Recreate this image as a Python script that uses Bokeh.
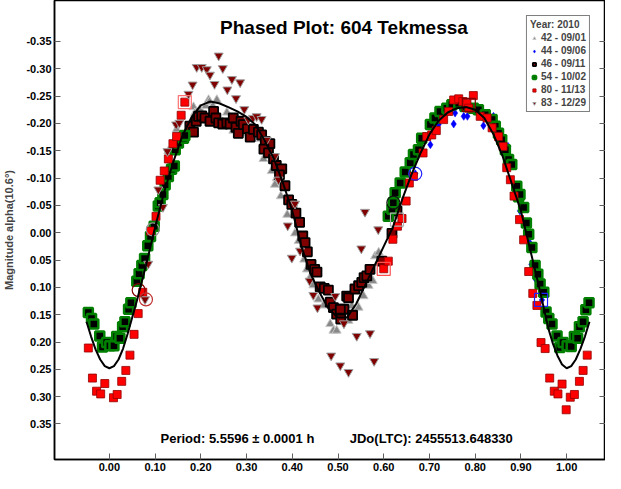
from bokeh.plotting import figure
from bokeh.models import (Range1d, FixedTicker, LinearAxis, Label, Legend, LegendItem,
                          CustomJSTickFormatter)
from bokeh.embed import file_html
from bokeh.resources import INLINE

# ---------------- data ----------------
x_ticks = [0.0, 0.1, 0.2, 0.3, 0.4, 0.5, 0.6, 0.7, 0.8, 0.9, 1.0]
y_ticks = [-0.35, -0.30, -0.25, -0.20, -0.15, -0.10, -0.05, 0.0, 0.05, 0.10, 0.15, 0.20, 0.25, 0.30, 0.35]

# Fourier fit curve
fit_phase = [-0.05, -0.04, -0.03, -0.02, -0.01, 0.00, 0.01, 0.02, 0.03, 0.04, 0.06, 0.08, 0.10, 0.12,
             0.14, 0.16, 0.18, 0.20, 0.22, 0.24, 0.26, 0.28, 0.30, 0.32, 0.34, 0.36, 0.38, 0.40, 0.42,
             0.44, 0.46, 0.48, 0.50, 0.52, 0.54, 0.56, 0.58, 0.60, 0.62, 0.64, 0.66, 0.68, 0.70, 0.72,
             0.74, 0.76, 0.78, 0.80, 0.82, 0.84, 0.86, 0.88, 0.90, 0.92, 0.94, 0.96, 0.97, 0.98, 0.99,
             1.00, 1.01, 1.02, 1.03, 1.04, 1.05]
fit_mag = [0.163, 0.190, 0.214, 0.232, 0.244, 0.248, 0.244, 0.232, 0.212, 0.185, 0.125, 0.060, -0.010,
           -0.075, -0.130, -0.178, -0.212, -0.233, -0.240, -0.237, -0.230, -0.222, -0.212, -0.197,
           -0.168, -0.135, -0.090, -0.040, 0.025, 0.075, 0.110, 0.140, 0.155, 0.155, 0.130, 0.095,
           0.060, 0.025, -0.010, -0.060, -0.105, -0.145, -0.180, -0.205, -0.220, -0.228, -0.230,
           -0.225, -0.210, -0.180, -0.140, -0.090, -0.040, 0.030, 0.100, 0.175, 0.203, 0.225, 0.241,
           0.248, 0.244, 0.232, 0.213, 0.190, 0.163]

s42_phase = [0.129, 0.147, 0.184, 0.187, 0.198, 0.211, 0.217, 0.219, 0.226, 0.235, 0.257, 0.271, 0.279,
             0.282, 0.286, 0.304, 0.330, 0.337, 0.355, 0.362, 0.366, 0.375, 0.389, 0.406, 0.414, 0.426,
             0.432, 0.439, 0.446, 0.457, 0.468, 0.483, 0.490, 0.497, 0.523, 0.530, 0.545, 0.556, 0.567,
             0.576, 0.581, 0.589, 0.625, 0.632]
s42_mag = [-0.149, -0.189, -0.230, -0.219, -0.226, -0.232, -0.243, -0.240, -0.232, -0.243, -0.220, -0.187,
           -0.196, -0.179, -0.182, -0.192, -0.172, -0.135, -0.113, -0.088, -0.100, -0.067, -0.033, 0.001,
           0.015, 0.049, 0.067, 0.082, 0.096, 0.122, 0.133, 0.167, 0.179, 0.179, 0.161, 0.134, 0.137,
           0.116, 0.097, 0.088, 0.043, 0.036, -0.030, -0.015]

s44_phase = [0.669, 0.702, 0.720, 0.753, 0.756, 0.767, 0.775, 0.783, 0.793, 0.804, 0.818, 0.832, 0.840,
             0.862, 0.872, 0.884, 0.898, 0.919, 0.923, 0.933, 0.946]
s44_mag = [-0.108, -0.161, -0.198, -0.199, -0.219, -0.231, -0.213, -0.213, -0.225, -0.228, -0.196, -0.206,
           -0.213, -0.149, -0.158, -0.125, -0.040, 0.018, 0.058, 0.086, 0.123]

s46_phase = [0.176, 0.184, 0.190, 0.195, 0.202, 0.209, 0.220, 0.228, 0.233, 0.239, 0.248, 0.257, 0.264,
             0.271, 0.277, 0.282, 0.288, 0.293, 0.302, 0.308, 0.315, 0.326, 0.333, 0.341, 0.351, 0.338,
             0.348, 0.359, 0.365, 0.377, 0.372, 0.384, 0.392, 0.399, 0.408, 0.416, 0.423, 0.428, 0.433,
             0.441, 0.449, 0.454, 0.461, 0.470, 0.479, 0.483, 0.490, 0.497, 0.506, 0.513, 0.505, 0.519,
             0.523, 0.532, 0.537, 0.545, 0.552, 0.557, 0.563, 0.570, 0.596, 0.618, 0.629]
s46_mag = [-0.195, -0.184, -0.204, -0.213, -0.214, -0.210, -0.204, -0.222, -0.210, -0.201, -0.199, -0.201,
           -0.199, -0.210, -0.193, -0.182, -0.204, -0.198, -0.190, -0.175, -0.189, -0.184, -0.179, -0.167,
           -0.163, -0.153, -0.146, -0.135, -0.123, -0.117, -0.106, -0.086, -0.060, -0.052, -0.036, -0.019,
           0.006, 0.018, 0.035, 0.058, 0.067, 0.072, 0.099, 0.102, 0.105, 0.127, 0.137, 0.149, 0.158,
           0.140, 0.140, 0.116, 0.119, 0.151, 0.103, 0.097, 0.091, 0.082, 0.079, 0.067, 0.052, 0.001, -0.040]

s54_phase = [-0.046, -0.039, -0.034, -0.021, -0.015, -0.006, 0.001, 0.010, 0.016, 0.023, 0.029, 0.034,
             0.042, 0.047, 0.060, 0.065, 0.071, 0.077, 0.084, 0.090, 0.098, 0.107, 0.111, 0.117, 0.122,
             0.129, 0.136, 0.142, 0.144, 0.151, 0.162, 0.165,
             0.610, 0.618, 0.621, 0.625, 0.636, 0.647, 0.658, 0.665, 0.676, 0.683, 0.702, 0.712, 0.723,
             0.738, 0.749, 0.764, 0.778, 0.796, 0.807, 0.822, 0.837, 0.844, 0.851, 0.858, 0.866, 0.873,
             0.880, 0.891, 0.895, 0.898, 0.906, 0.912, 0.917, 0.924, 0.931, 0.937, 0.942, 0.950, 0.955,
             0.961, 0.968, 0.979, 0.985, 0.992, 1.001, 1.010, 1.017, 1.024, 1.028, 1.036, 1.042, 1.049]
s54_mag = [0.146, 0.157, 0.167, 0.189, 0.209, 0.201, 0.207, 0.207, 0.190, 0.193, 0.172, 0.163, 0.140,
           0.128, 0.089, 0.075, 0.060, 0.047, 0.024, 0.007, -0.012, -0.049, -0.055, -0.070, -0.088,
           -0.103, -0.116, -0.122, -0.152, -0.164, -0.173, -0.178,
           -0.030, -0.043, -0.055, -0.073, -0.091, -0.111, -0.128, -0.143, -0.152, -0.173, -0.198,
           -0.210, -0.222, -0.228, -0.234, -0.237, -0.231, -0.228, -0.225, -0.216, -0.207, -0.195,
           -0.182, -0.170, -0.152, -0.134, -0.125, -0.085, -0.066, -0.070, -0.046, -0.018, 0.003,
           0.027, 0.060, 0.076, 0.094, 0.109, 0.145, 0.157, 0.167, 0.189, 0.210, 0.201, 0.207, 0.208,
           0.190, 0.193, 0.172, 0.163, 0.141, 0.128]

s80_phase = [-0.046, -0.037, -0.028, -0.019, -0.010, 0.009, 0.017, 0.027, 0.036, 0.045, 0.054, 0.063,
             0.073, 0.090, 0.102, 0.111, 0.120, 0.129, 0.139, 0.147, 0.157, 0.165,
             0.600, 0.610, 0.620, 0.630, 0.640, 0.649, 0.656, 0.665, 0.686, 0.694, 0.705, 0.715, 0.731,
             0.742, 0.753, 0.764, 0.773, 0.782, 0.786, 0.796, 0.811, 0.826, 0.837, 0.851, 0.861, 0.869,
             0.877, 0.885, 0.897, 0.906, 0.917, 0.926, 0.935, 0.944, 0.953, 0.963, 0.973, 0.981, 0.990,
             0.999, 1.008, 1.017, 1.028, 1.036, 1.045]
s80_mag = [0.211, 0.266, 0.290, 0.295, 0.276, 0.302, 0.296, 0.272, 0.252, 0.224, 0.186, 0.148, 0.109,
           -0.003, -0.030, -0.096, -0.113, -0.135, -0.163, -0.176, -0.215, -0.239,
           0.066, 0.052, 0.012, -0.012, -0.026, -0.058, -0.091, -0.103, -0.146, -0.176, -0.179, -0.187,
           -0.207, -0.222, -0.243, -0.245, -0.240, -0.237, -0.228, -0.251, -0.213, -0.210, -0.192,
           -0.176, -0.158, -0.119, -0.097, -0.067, -0.024, 0.013, 0.071, 0.111, 0.133, 0.201, 0.212,
           0.266, 0.290, 0.295, 0.277, 0.324, 0.301, 0.296, 0.272, 0.252, 0.224]

s83_phase = [0.078, 0.085, 0.107, 0.117, 0.127, 0.146, 0.153, 0.173, 0.182, 0.191, 0.202, 0.213, 0.220,
             0.230, 0.239, 0.248, 0.258, 0.268, 0.277, 0.286, 0.295, 0.304, 0.314, 0.322, 0.333, 0.344,
             0.362, 0.370, 0.390, 0.399, 0.406, 0.417, 0.438, 0.446, 0.455, 0.485, 0.494, 0.505, 0.513,
             0.523, 0.541, 0.551, 0.559, 0.570, 0.579, 0.588]
s83_mag = [0.122, 0.057, -0.079, -0.047, -0.149, -0.198, -0.201, -0.254, -0.271, -0.303, -0.303, -0.299,
           -0.289, -0.272, -0.324, -0.301, -0.262, -0.281, -0.246, -0.275, -0.226, -0.207, -0.210,
           -0.213, -0.208, -0.170, -0.140, -0.097, -0.013, 0.046, -0.053, 0.033, 0.088, 0.114, 0.137,
           0.225, 0.116, 0.243, 0.166, 0.255, 0.189, 0.029, -0.038, 0.184, 0.235, -0.006]

# highlighted (first-point) markers
ring_phase = [0.095, 0.064, 0.080, 0.621, 0.669]
ring_mag = [-0.006, 0.105, 0.122, -0.055, -0.108]
ring_color = ["#909090", "#800000", "#c03030", "#101010", "#2020ff"]
box_phase = [0.165, 0.600, 0.629, 0.944, 0.786]
box_mag = [-0.239, 0.066, -0.024, 0.123, -0.234]
box_color = ["#ff7070", "#ff5050", "#b0b0b0", "#2020ff", "#800000"]

legend_labels = ["42 - 09/01", "44 - 09/06", "46 - 09/11", "54 - 10/02", "80 - 11/13", "83 - 12/29"]

# ---------------- figure ----------------
FONT = "Liberation Sans"
p = figure(width=605, height=473, output_backend="svg", toolbar_location=None,
           x_range=Range1d(-0.12, 1.085), y_range=Range1d(0.415, -0.425),
           min_border_left=49, min_border_right=0, min_border_top=0, min_border_bottom=0)
p.background_fill_color = "white"
p.border_fill_color = "white"
p.grid.visible = False
p.outline_line_color = "black"
p.outline_line_width = 1.5

fmt = CustomJSTickFormatter(code="return tick.toFixed(2);")

for ax in (p.xaxis[0], p.yaxis[0]):
    ax.formatter = fmt
    ax.major_tick_in = 6
    ax.major_tick_out = 0
    ax.minor_tick_in = 0
    ax.minor_tick_out = 0
    ax.axis_line_color = "black"
    ax.axis_line_width = 1.5
    ax.major_tick_line_color = "#606060"
    ax.major_label_text_font = FONT
    ax.major_label_text_font_style = "bold"
    ax.major_label_text_font_size = "11px"
    ax.major_label_text_color = "black"
p.xaxis[0].ticker = FixedTicker(ticks=x_ticks)
p.yaxis[0].ticker = FixedTicker(ticks=y_ticks)
p.xaxis[0].major_label_standoff = 3
p.yaxis[0].major_label_standoff = 3
p.yaxis[0].axis_label = "Magnitude alpha(10.6°)"
p.yaxis[0].axis_label_text_font = FONT
p.yaxis[0].axis_label_text_font_style = "bold"
p.yaxis[0].axis_label_text_font_size = "11px"
p.yaxis[0].axis_label_standoff = 8

rax = LinearAxis(ticker=FixedTicker(ticks=y_ticks), major_tick_in=6, major_tick_out=0,
                 minor_tick_in=0, minor_tick_out=0,
                 formatter=CustomJSTickFormatter(code="return '';"),
                 major_label_standoff=0, axis_line_color="black", major_tick_line_color="#606060")
p.add_layout(rax, "right")

# ---------------- data series ----------------
r42 = p.scatter(s42_phase, s42_mag, marker="triangle", size=9, fill_color="#888888",
                line_color="#c8c8c8", line_width=1)
r44 = p.scatter(s44_phase, s44_mag, marker="diamond", size=8, fill_color="#0000ff",
                line_color="#0000ff", line_width=0.5)
r46 = p.scatter(s46_phase, s46_mag, marker="square", size=9, fill_color="#800000",
                line_color="black", line_width=1.8)
r54 = p.scatter(s54_phase, s54_mag, marker="square", size=9, fill_color="black",
                line_color="#008000", line_width=2.5)
r80 = p.scatter(s80_phase, s80_mag, marker="square", size=8, fill_color="#ff0000",
                line_color="#900000", line_width=0.8)
r83 = p.scatter(s83_phase, s83_mag, marker="inverted_triangle", size=9, fill_color="#800000",
                line_color="#a0a0a0", line_width=1)

p.scatter(ring_phase, ring_mag, marker="circle", size=13, fill_color=None,
          line_color=ring_color, line_width=1.2)
p.scatter(box_phase, box_mag, marker="square", size=13, fill_color=None,
          line_color=box_color, line_width=1.2)

p.line(fit_phase, fit_mag, line_color="black", line_width=2)

# ---------------- texts ----------------
p.add_layout(Label(x=0.513, y=-0.376, text="Phased Plot: 604 Tekmessa", text_align="center",
                   text_baseline="middle", text_font=FONT, text_font_style="bold",
                   text_font_size="19px", text_color="black"))
p.add_layout(Label(x=0.280, y=0.376, text="Period: 5.5596 ± 0.0001 h", text_align="center",
                   text_baseline="middle", text_font=FONT, text_font_style="bold",
                   text_font_size="13px", text_color="black"))
p.add_layout(Label(x=0.704, y=0.376, text="JDo(LTC): 2455513.648330", text_align="center",
                   text_baseline="middle", text_font=FONT, text_font_style="bold",
                   text_font_size="13px", text_color="black"))

items = [LegendItem(label=lab, renderers=[r]) for lab, r in
         zip(legend_labels, [r42, r44, r46, r54, r80, r83])]
leg = Legend(items=items, location="top_right", title="Year: 2010")
leg.title_text_font = FONT
leg.title_text_font_style = "bold"
leg.title_text_font_size = "10px"
leg.title_standoff = 2
leg.label_text_font = FONT
leg.label_text_font_style = "bold"
leg.label_text_font_size = "10px"
leg.label_height = 10
leg.glyph_height = 10
leg.glyph_width = 8
leg.label_standoff = 3
leg.spacing = 2
leg.padding = 3
leg.margin = 15
leg.border_line_color = "black"
leg.border_line_width = 1
leg.background_fill_alpha = 1
p.add_layout(leg)

open("out.html", "w").write(file_html(p, INLINE))
